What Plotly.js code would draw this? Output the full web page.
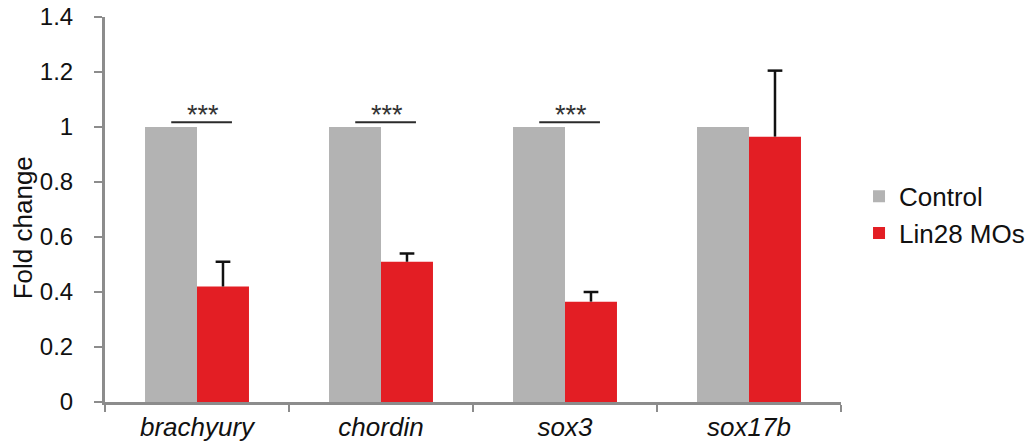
<!DOCTYPE html>
<html>
<head>
<meta charset="utf-8">
<script src="https://cdn.plot.ly/plotly-3.0.1.min.js"></script>
<style>
  html, body { margin: 0; padding: 0; background: #fff; }
  #chart { width: 1030px; height: 441px; }
</style>
</head>
<body>
<div id="chart"></div>
<script>
// Genes measured by qPCR
const genes = ['brachyury', 'chordin', 'sox3', 'sox17b'];

// Relative expression (fold change vs. control)
const controlValues = [1, 1, 1, 1];
const lin28Values = [0.42, 0.51, 0.365, 0.965];
const lin28Errors = [0.09, 0.03, 0.035, 0.24];

// Genes marked as significantly changed, and their marker text
const sigGenes = ['brachyury', 'chordin', 'sox3'];
const sigLabel = '***';

const yTicks = [0, 0.2, 0.4, 0.6, 0.8, 1, 1.2, 1.4];
const yTitle = 'Fold change';

const FONT = '"Liberation Sans", Arial, sans-serif';
const AXIS_GREY = '#8c8c8c';
const BARGAP = 0.435;
// centre of the second bar of each group, in category units
const secondBarOffset = (1 - BARGAP) / 4;
const capHalfWidth = 0.04;

const traces = [
  {
    type: 'bar',
    name: 'Control',
    x: genes,
    y: controlValues,
    marker: { color: '#b3b3b3' },
    hoverinfo: 'x+y+name'
  },
  {
    type: 'bar',
    name: 'Lin28 MOs',
    x: genes,
    y: lin28Values,
    marker: { color: '#e31e24' },
    // upper error only; the stem is drawn here, the top cap as a shape below
    error_y: {
      type: 'data',
      symmetric: false,
      array: lin28Errors,
      arrayminus: lin28Errors.map(() => 0),
      color: '#111',
      thickness: 2.5,
      width: 0
    },
    hoverinfo: 'x+y+name'
  }
];

const shapes = [];
const annotations = [];

// Top caps of the error bars
genes.forEach((g, i) => {
  const top = lin28Values[i] + lin28Errors[i];
  shapes.push({
    type: 'line', xref: 'x', yref: 'y',
    x0: i + secondBarOffset - capHalfWidth, x1: i + secondBarOffset + capHalfWidth,
    y0: top, y1: top,
    line: { color: '#111', width: 2.5 }
  });
});

// Significance brackets: a line spanning the pair of bars with stars above it
sigGenes.forEach(g => {
  const i = genes.indexOf(g);
  const level = Math.max(controlValues[i], lin28Values[i] + lin28Errors[i]) + 0.017;
  shapes.push({
    type: 'line', xref: 'x', yref: 'y',
    x0: i - 0.14, x1: i + 0.19, y0: level, y1: level,
    line: { color: '#2b2b2b', width: 2 }
  });
  annotations.push({
    xref: 'x', yref: 'y', x: i + 0.035, y: level,
    yanchor: 'bottom', xanchor: 'center', yshift: -10,
    text: sigLabel, showarrow: false,
    font: { family: FONT, size: 27, color: '#333' }
  });
});

// Y axis title, set a little below the axis middle
annotations.push({
  xref: 'paper', yref: 'paper', x: -0.111, y: 0.452,
  xanchor: 'center', yanchor: 'middle', textangle: -90,
  text: yTitle, showarrow: false,
  font: { family: FONT, size: 26, color: '#111' }
});

const layout = {
  width: 1030,
  height: 441,
  margin: { l: 105, r: 189, t: 17, b: 39, autoexpand: false },
  paper_bgcolor: '#fff',
  plot_bgcolor: '#fff',
  barmode: 'group',
  bargap: BARGAP,
  bargroupgap: 0,
  font: { family: FONT, color: '#1a1a1a' },
  showlegend: true,
  legend: {
    xref: 'container', yref: 'container',
    x: 0.834, xanchor: 'left',
    y: 0.513, yanchor: 'middle',
    font: { family: FONT, size: 26, color: '#111' },
    itemwidth: 30,
    bgcolor: 'rgba(0,0,0,0)'
  },
  xaxis: {
    type: 'category',
    automargin: false,
    showline: true, linecolor: AXIS_GREY, linewidth: 3,
    ticks: 'outside', tickson: 'boundaries', ticklen: 7, tickwidth: 2, tickcolor: AXIS_GREY,
    tickfont: { family: FONT, size: 26, style: 'italic', color: '#111' },
    showgrid: false, zeroline: false,
    fixedrange: true
  },
  yaxis: {
    automargin: false,
    range: [0, 1.4],
    tickvals: yTicks,
    showline: true, linecolor: AXIS_GREY, linewidth: 3,
    ticks: 'outside', ticklen: 8, tickwidth: 2, tickcolor: AXIS_GREY,
    ticklabelstandoff: 16,
    tickfont: { family: FONT, size: 24, color: '#111' },
    showgrid: false, zeroline: false,
    fixedrange: true
  },
  shapes: shapes,
  annotations: annotations
};

Plotly.newPlot('chart', traces, layout, { displayModeBar: false, staticPlot: true });
</script>
</body>
</html>
